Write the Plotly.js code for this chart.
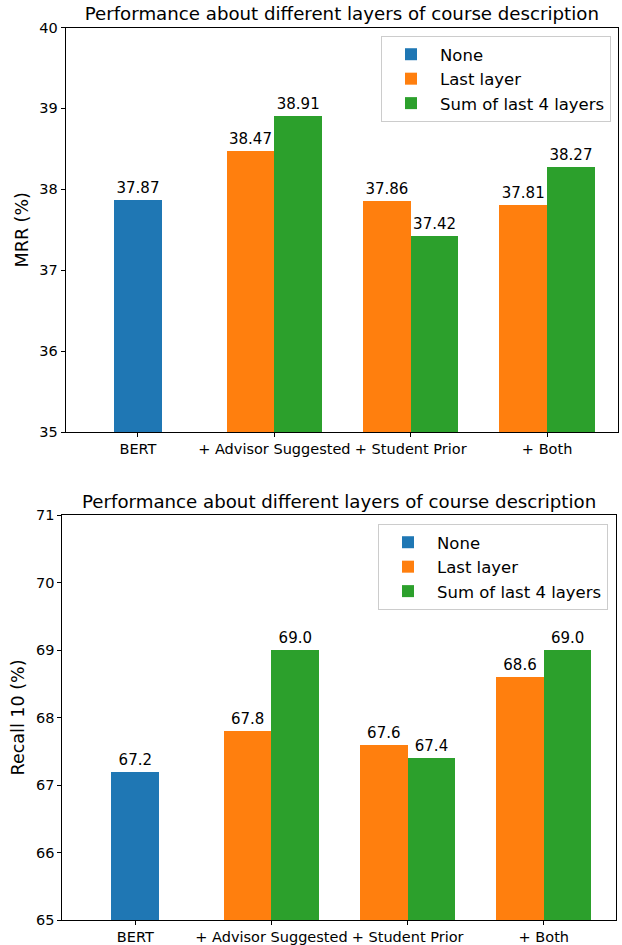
<!DOCTYPE html>
<html>
<head>
<meta charset="utf-8">
<script src="https://cdn.plot.ly/plotly-3.0.1.min.js"></script>
<style>html,body{margin:0;padding:0;background:#fff;}#chart{width:622px;height:945px;}</style>
</head>
<body>
<div id="chart"></div>
<script>
// ---- data ----
const categories = ['BERT', '+ Advisor Suggested', '+ Student Prior', '+ Both'];
const seriesNames = ['None', 'Last layer', 'Sum of last 4 layers'];
const colors = ['#1f77b4', '#ff7f0e', '#2ca02c'];

// MRR (%)
const mrrNoneCats = ['BERT'];
const mrrNone = [37.87];
const mrrLastCats = ['+ Advisor Suggested', '+ Student Prior', '+ Both'];
const mrrLast = [38.47, 37.86, 37.81];
const mrrSumCats = ['+ Advisor Suggested', '+ Student Prior', '+ Both'];
const mrrSum = [38.91, 37.42, 38.27];

// Recall 10 (%)
const recNoneCats = ['BERT'];
const recNone = [67.2];
const recLastCats = ['+ Advisor Suggested', '+ Student Prior', '+ Both'];
const recLast = [67.8, 67.6, 68.6];
const recSumCats = ['+ Advisor Suggested', '+ Student Prior', '+ Both'];
const recSum = [69.0, 67.4, 69.0];

const titleText = 'Performance about different layers of course description';
const FONT = 'DejaVu Sans, sans-serif';
const W = 0.35;

function bar(xs, ys, i, offset, xa, ya, leg, fmt, show) {
  return {
    type: 'bar', x: xs, y: ys, name: seriesNames[i],
    marker: {color: colors[i], line: {width: 0}},
    width: W, offset: offset,
    xaxis: xa, yaxis: ya, legend: leg, showlegend: show,
    text: ys.map(v => v.toFixed(fmt)), textposition: 'outside',
    textfont: {family: FONT, size: 15, color: '#000'},
    cliponaxis: false, hoverinfo: 'x+y'
  };
}

const data = [
  bar(mrrNoneCats, mrrNone, 0, -W/2, 'x', 'y', 'legend', 2, true),
  bar(mrrLastCats, mrrLast, 1, -W, 'x', 'y', 'legend', 2, true),
  bar(mrrSumCats, mrrSum, 2, 0, 'x', 'y', 'legend', 2, true),
  bar(recNoneCats, recNone, 0, -W/2, 'x2', 'y2', 'legend2', 1, true),
  bar(recLastCats, recLast, 1, -W, 'x2', 'y2', 'legend2', 1, true),
  bar(recSumCats, recSum, 2, 0, 'x2', 'y2', 'legend2', 1, true)
];

const H = 945, WD = 622;
const axisCommon = {
  showline: true, mirror: true, linecolor: '#000', linewidth: 1,
  ticks: 'outside', ticklen: 4, tickcolor: '#000', tickwidth: 1,
  showgrid: false, zeroline: false, automargin: false,
  tickfont: {family: FONT, size: 14.5, color: '#000'}
};

const layout = {
  width: WD, height: H,
  margin: {l: 0, r: 0, t: 0, b: 0},
  paper_bgcolor: '#fff', plot_bgcolor: '#fff',
  font: {family: FONT, color: '#000'},
  bargap: 0, barmode: 'overlay',
  xaxis: Object.assign({}, axisCommon, {
    type: 'category', categoryorder: 'array', categoryarray: categories,
    range: [-0.53, 3.52], domain: [65.7/WD, 618/WD], anchor: 'y'
  }),
  yaxis: Object.assign({}, axisCommon, {
    range: [35, 40], dtick: 1, domain: [1 - 432/H, 1 - 27.5/H], anchor: 'x',
    title: {text: 'MRR (%)', font: {family: FONT, size: 17.5, color: '#000'}, standoff: 6}
  }),
  xaxis2: Object.assign({}, axisCommon, {
    type: 'category', categoryorder: 'array', categoryarray: categories,
    range: [-0.536, 3.53], domain: [62.3/WD, 616/WD], anchor: 'y2'
  }),
  yaxis2: Object.assign({}, axisCommon, {
    range: [65, 71], dtick: 1, domain: [1 - 920/H, 1 - 515/H], anchor: 'x2',
    title: {text: 'Recall 10 (%)', font: {family: FONT, size: 17.5, color: '#000'}, standoff: 6}
  }),
  legend: {
    x: 611/WD, xanchor: 'right', y: 1 - 36/H, yanchor: 'top',
    bgcolor: 'rgba(255,255,255,0.8)', bordercolor: '#cccccc', borderwidth: 1,
    font: {family: FONT, size: 16.5, color: '#000'}, traceorder: 'normal',
    itemwidth: 48
  },
  legend2: {
    x: 608/WD, xanchor: 'right', y: 1 - 524/H, yanchor: 'top',
    bgcolor: 'rgba(255,255,255,0.8)', bordercolor: '#cccccc', borderwidth: 1,
    font: {family: FONT, size: 16.5, color: '#000'}, traceorder: 'normal',
    itemwidth: 48
  },
  title: {
    text: titleText, font: {family: FONT, size: 18.2, color: '#000'},
    x: (65.7 + 618) / 2 / WD, xanchor: 'center', xref: 'paper',
    y: 1 - 14/H, yanchor: 'middle', yref: 'paper'
  },
  annotations: [{
    text: titleText, font: {family: FONT, size: 18.2, color: '#000'},
    x: (62.3 + 616) / 2 / WD, xanchor: 'center', xref: 'paper',
    y: 1 - 501/H, yanchor: 'middle', yref: 'paper', showarrow: false
  }]
};

Plotly.newPlot('chart', data, layout, {displayModeBar: false, staticPlot: true});
</script>
</body>
</html>
